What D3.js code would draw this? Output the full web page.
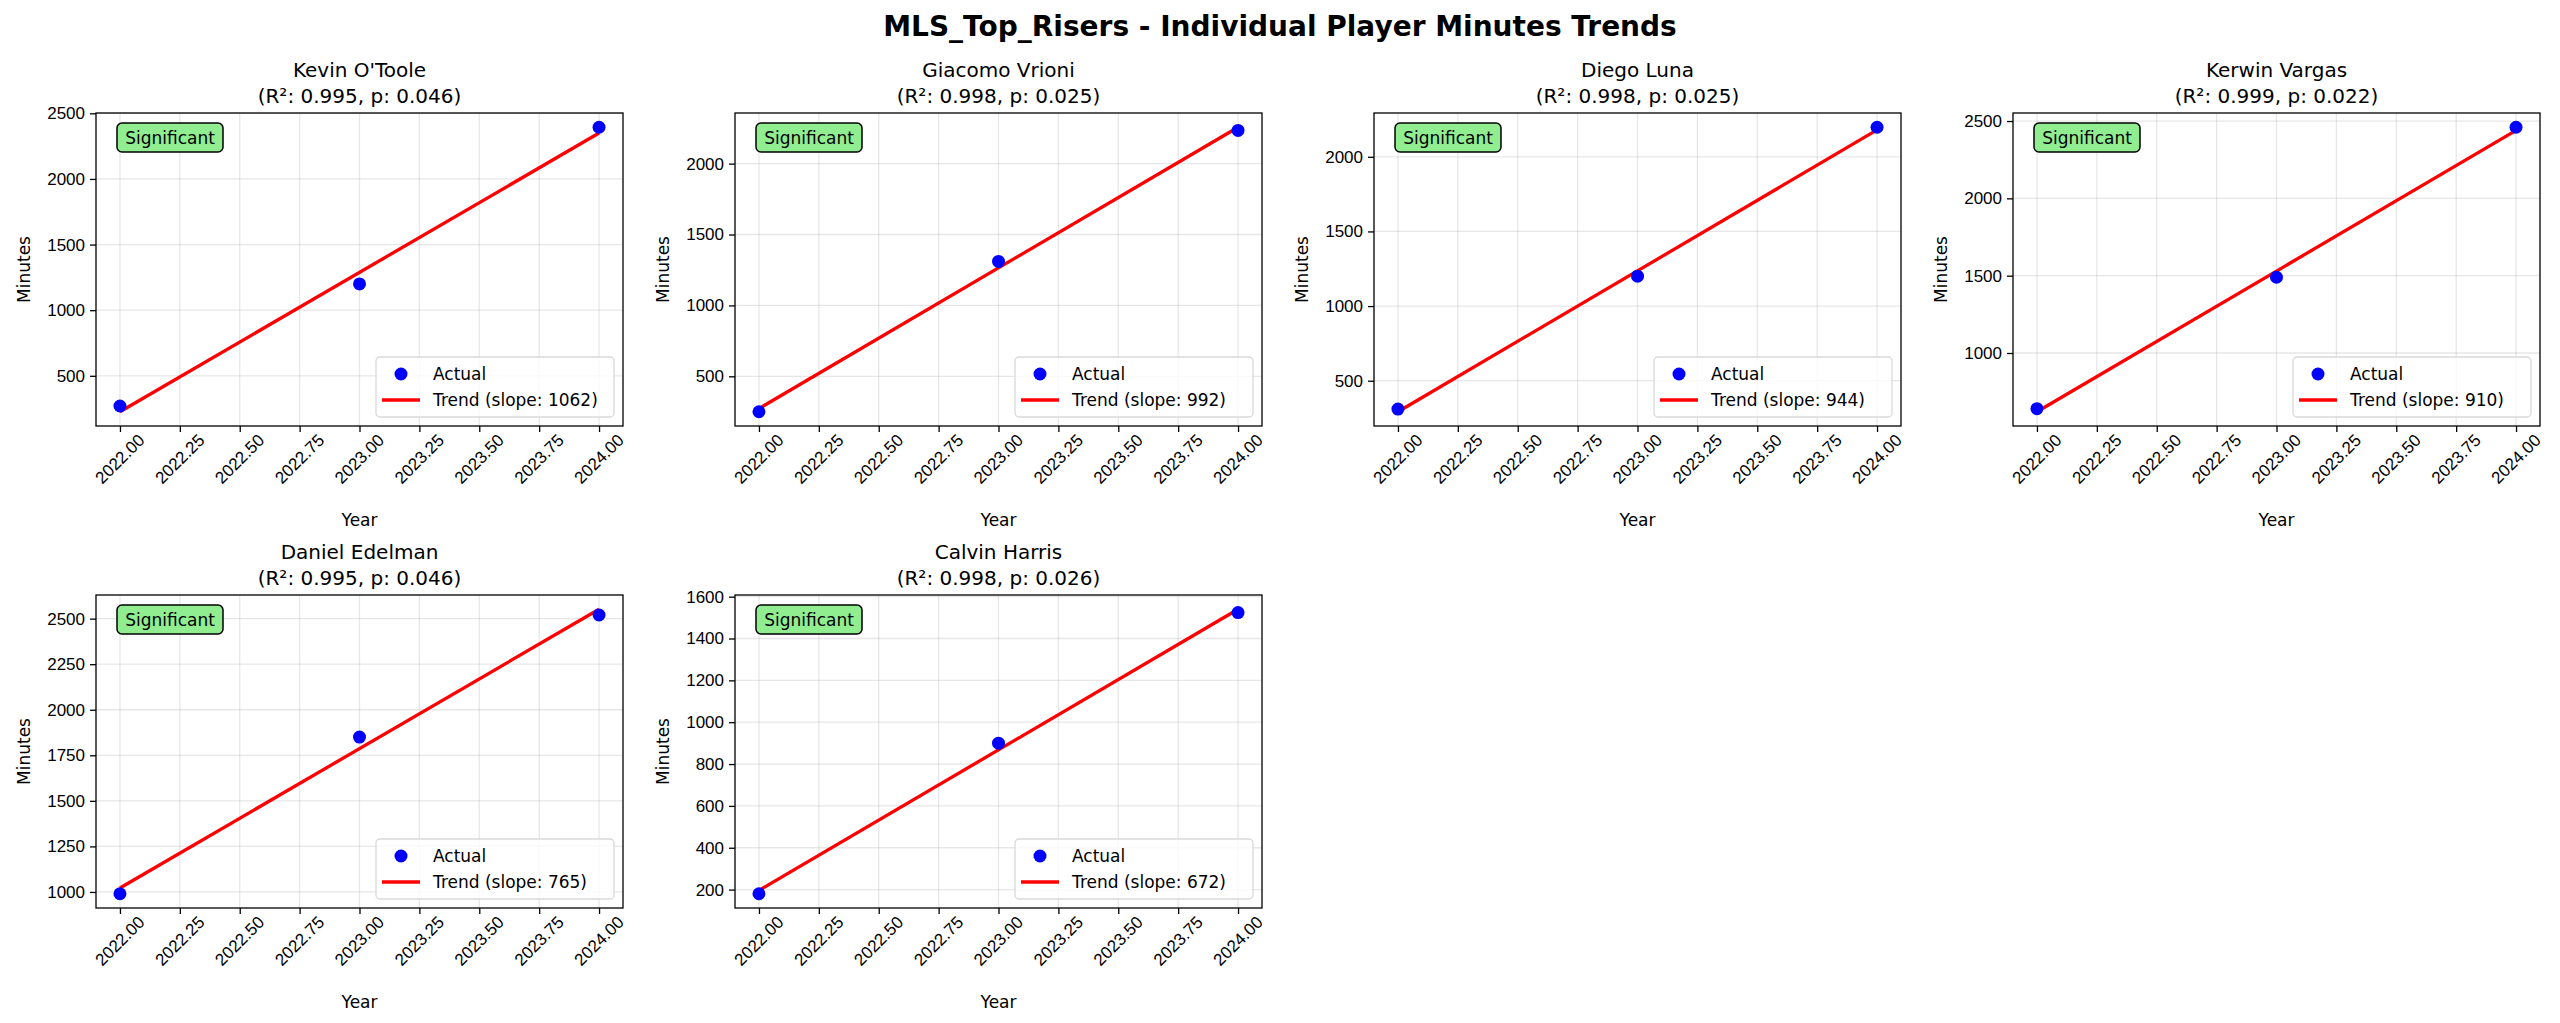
<!DOCTYPE html>
<html><head><meta charset="utf-8">
<script src="https://cdn.jsdelivr.net/npm/d3@7"></script>
<style>body{margin:0;background:#fff}svg{font-family:"DejaVu Sans",sans-serif}</style>
</head><body><svg id="c" width="2560" height="1023"></svg>
<script>
const players = ["Kevin O'Toole","Giacomo Vrioni","Diego Luna","Kerwin Vargas","Daniel Edelman","Calvin Harris"];
const stats = ["(R²: 0.995, p: 0.046)","(R²: 0.998, p: 0.025)","(R²: 0.998, p: 0.025)","(R²: 0.999, p: 0.022)","(R²: 0.995, p: 0.046)","(R²: 0.998, p: 0.026)"];
const years = [2022, 2023, 2024];
const minutes = [
  [270, 1200, 2394],
  [250, 1310, 2234],
  [310, 1200, 2198],
  [640, 1490, 2460],
  [990, 1850, 2520],
  [180, 900, 1524]
];
const slopeLabels = ["1062","992","944","910","765","672"];
const yTicks = [
  [500,1000,1500,2000,2500],
  [500,1000,1500,2000],
  [500,1000,1500,2000],
  [1000,1500,2000,2500],
  [1000,1250,1500,1750,2000,2250,2500],
  [200,400,600,800,1000,1200,1400,1600]
];
const xTicks = [2022,2022.25,2022.5,2022.75,2023,2023.25,2023.5,2023.75,2024];

const svg = d3.select("#c");
svg.append("text").attr("x",1280).attr("y",36).attr("text-anchor","middle")
  .attr("font-size",28).attr("font-weight","bold").text("MLS_Top_Risers - Individual Player Minutes Trends");

const W = 527, H = 313;
const lefts = [96, 735, 1374, 2013], tops = [113, 595];
const FS = 17;

players.forEach((name, i) => {
  const ox = lefts[i % 4], oy = tops[Math.floor(i / 4)];
  const g = svg.append("g").attr("transform", `translate(${ox},${oy})`);
  const ys = minutes[i];
  const mx = d3.mean(years), my = d3.mean(ys);
  const slope = d3.sum(years.map((x,k)=>(x-mx)*(ys[k]-my))) / d3.sum(years.map(x=>(x-mx)**2));
  const fit = x => my + slope*(x-mx);
  const allY = ys.concat([fit(2022), fit(2024)]);
  const lo = d3.min(allY), hi = d3.max(allY), m = (hi-lo)*0.05;
  const x = d3.scaleLinear().domain([2021.9, 2024.1]).range([0, W]);
  const y = d3.scaleLinear().domain([lo-m, hi+m]).range([H, 0]);

  g.append("g").selectAll("line").data(xTicks).join("line")
    .attr("x1",d=>x(d)).attr("x2",d=>x(d)).attr("y1",0).attr("y2",H)
    .attr("stroke","#b0b0b0").attr("stroke-opacity",0.3).attr("stroke-width",1.3);
  g.append("g").selectAll("line").data(yTicks[i]).join("line")
    .attr("y1",d=>y(d)).attr("y2",d=>y(d)).attr("x1",0).attr("x2",W)
    .attr("stroke","#b0b0b0").attr("stroke-opacity",0.3).attr("stroke-width",1.3);

  const xa = g.append("g").attr("transform",`translate(0,${H})`)
    .call(d3.axisBottom(x).tickValues(xTicks).tickFormat(d3.format(".2f")).tickSizeOuter(0).tickSize(6).tickPadding(4));
  xa.selectAll("text").attr("font-size",FS).attr("text-anchor","end")
    .attr("transform","translate(14,4) rotate(-45)").attr("dy","0.35em").attr("dx","0");
  const ya = g.append("g").call(d3.axisLeft(y).tickValues(yTicks[i]).tickFormat(d3.format("d")).tickSizeOuter(0).tickSize(6).tickPadding(5));
  ya.selectAll("text").attr("font-size",FS);
  [xa, ya].forEach(a => { a.select(".domain").remove(); a.selectAll("line").attr("stroke-width",1.3); a.selectAll("text").attr("fill","#000"); });
  g.append("rect").attr("width",W).attr("height",H).attr("fill","none").attr("stroke","#000").attr("stroke-width",1.3);

  g.append("line").attr("x1",x(2022)).attr("y1",y(fit(2022))).attr("x2",x(2024)).attr("y2",y(fit(2024)))
    .attr("stroke","#ff0000").attr("stroke-width",3.3);
  g.selectAll("circle.p").data(years).join("circle").attr("class","p")
    .attr("cx",d=>x(d)).attr("cy",(d,k)=>y(ys[k])).attr("r",6.5).attr("fill","#0000ff");

  g.append("text").attr("x",W/2).attr("y",-36).attr("text-anchor","middle").attr("font-size",20).text(name);
  g.append("text").attr("x",W/2).attr("y",-10).attr("text-anchor","middle").attr("font-size",20).text(stats[i]);
  g.append("text").attr("x",W/2).attr("y",H+100).attr("text-anchor","middle").attr("font-size",FS).text("Year");
  g.append("text").attr("transform",`translate(${-66},${H/2}) rotate(-90)`).attr("text-anchor","middle").attr("font-size",FS).text("Minutes");

  g.append("rect").attr("x",21).attr("y",10).attr("width",106).attr("height",29).attr("rx",5)
    .attr("fill","#90ee90").attr("stroke","#000").attr("stroke-width",1.5);
  g.append("text").attr("x",74).attr("y",30.5).attr("text-anchor","middle").attr("font-size",FS).text("Significant");

  const lw = 238, lh = 60, lx = W - lw - 9, ly = H - lh - 9;
  const lg = g.append("g").attr("transform",`translate(${lx},${ly})`);
  lg.append("rect").attr("width",lw).attr("height",lh).attr("rx",4).attr("fill","#fff").attr("fill-opacity",0.8)
    .attr("stroke","#d9d9d9").attr("stroke-width",1.3);
  lg.append("circle").attr("cx",25).attr("cy",17).attr("r",6.5).attr("fill","#0000ff");
  lg.append("text").attr("x",57).attr("y",23).attr("font-size",FS).text("Actual");
  lg.append("line").attr("x1",6).attr("x2",44).attr("y1",43).attr("y2",43).attr("stroke","#ff0000").attr("stroke-width",3.3);
  lg.append("text").attr("x",57).attr("y",49).attr("font-size",FS).text(`Trend (slope: ${slopeLabels[i]})`);
});
</script></body></html>
